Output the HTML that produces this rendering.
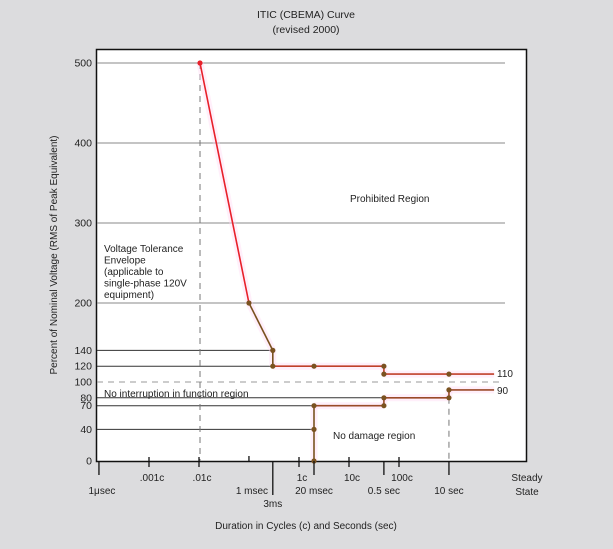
<!DOCTYPE html>
<html><head><meta charset="utf-8"><style>
html,body{margin:0;padding:0;background:#dcdcde;}
svg{display:block;font-family:"Liberation Sans",sans-serif;}
</style></head><body>
<svg width="613" height="549" viewBox="0 0 613 549">
<rect x="0" y="0" width="613" height="549" fill="#dcdcde"/>
<text x="306" y="18" font-size="10.5" text-anchor="middle" fill="#222">ITIC (CBEMA) Curve</text>
<text x="306" y="33" font-size="10.5" text-anchor="middle" fill="#222">(revised 2000)</text>
<rect x="96.5" y="49.5" width="430" height="412" fill="#fff" stroke="#111" stroke-width="1.5"/>
<g id="grid"></g>
<g id="glow"></g>
<g id="lines"></g>
<g id="pts"></g>
<g id="axes"></g>
<text x="57" y="255" font-size="10" text-anchor="middle" fill="#222" transform="rotate(-90 57 255)">Percent of Nominal Voltage (RMS of Peak Equivalent)</text>
<text x="306" y="529" font-size="10" text-anchor="middle" fill="#222">Duration in Cycles (c) and Seconds (sec)</text>
<text x="350" y="202" font-size="10" fill="#222">Prohibited Region</text>
<g font-size="10" fill="#222">
<text x="104" y="252">Voltage Tolerance</text>
<text x="104" y="263.5">Envelope</text>
<text x="104" y="275">(applicable to</text>
<text x="104" y="286.5">single-phase 120V</text>
<text x="104" y="298">equipment)</text>
</g>
<text x="104" y="397" font-size="10" fill="#222">No interruption in function region</text>
<text x="333" y="439" font-size="10" fill="#222">No damage region</text>
<text x="497" y="377" font-size="10" fill="#222">110</text>
<text x="497" y="394" font-size="10" fill="#222">90</text>
<text x="527" y="481" font-size="10" text-anchor="middle" fill="#222">Steady</text>
<text x="527" y="495" font-size="10" text-anchor="middle" fill="#222">State</text>
</svg>
<script>
const yTicks=[500,400,300,200,140,120,100,80,70,40,0];
const upperT=[0.000105,0.001,0.003,0.003,0.02,0.5,0.5,10,80];
const upperV=[500,200,140,120,120,120,110,110,110];
const lowerT=[0.02,0.02,0.02,0.5,0.5,10,10,80];
const lowerV=[0,40,70,70,80,80,90,90];
const cycleTicks=[0.001,0.01,1,10,100];
const cycleLabels=[".001c",".01c","1c","10c","100c"];
const timeTicks=[0.000001,0.001,0.003,0.02,0.5,10];
const timeLabels=["1μsec","1 msec","3ms","20 msec","0.5 sec","10 sec"];
const NS="http://www.w3.org/2000/svg";
function xt(t){return 314+50*Math.log10(t/0.02);}
function xc(c){return 299+50*Math.log10(c);}
function yv(v){return v>=200?303-(v-200)*0.8:461-v*0.79;}
function mk(tag,attrs,parent,txt){const e=document.createElementNS(NS,tag);for(const k in attrs)e.setAttribute(k,attrs[k]);if(txt!==undefined)e.textContent=txt;document.getElementById(parent).appendChild(e);return e;}
yTicks.forEach((v,i)=>{
  const y=yv(v);
  const lab=mk('text',{x:92,y:y+3.5,'font-size':10.5,'text-anchor':'end',fill:'#222'},'axes',String(v));
  
  
  if(v===0)return;
  let x2=505,dash=null,col='#888',w=1;
  if(v===100){dash='6,5';col='#999';x2=502;}
  else if(v<200){col='#333';
    if(v===140)x2=xt(0.003);else if(v===120)x2=xt(0.003);else if(v===80)x2=xt(10);else if(v===70||v===40)x2=xt(0.02);}
  const l=mk('line',{x1:97,y1:y,x2:x2,y2:y,stroke:col,'stroke-width':w},'grid');
  if(dash)l.setAttribute('stroke-dasharray',dash);
  
  
});
const d1=mk('line',{x1:xt(upperT[0]),y1:yv(500),x2:xt(upperT[0]),y2:461,stroke:'#777','stroke-dasharray':'6,5'},'grid');


const d2=mk('line',{x1:xt(10),y1:yv(80),x2:xt(10),y2:461,stroke:'#777','stroke-dasharray':'6,5'},'grid');


function drawCurve(T,V,name,colorFn){
  for(let i=0;i<T.length-1;i++){
    const x1=xt(T[i]),y1=yv(V[i]),x2=xt(T[i+1]),y2=yv(V[i+1]);
    const g=mk('line',{x1,y1,x2,y2,stroke:'#ffd6f2','stroke-width':7,'stroke-opacity':0.4},'glow');
    
    
    const l=mk('line',{x1,y1,x2,y2,stroke:colorFn(i),'stroke-width':1.6},'lines');
    
    
  }
  T.forEach((t,i)=>{
    if(i===T.length-1)return;
    const c=mk('circle',{cx:xt(t),cy:yv(V[i]),r:2.6,fill:(name==='upper-curve'&&i===0)?'#e8202a':'#7a5220'},'pts');
    
    
  });
}
drawCurve(upperT,upperV,'upper-curve',i=>i===0?'#e8202a':(i<3?'#7a5220':'#c0402a'));
drawCurve(lowerT,lowerV,'lower-curve',i=>i<2?'#7a5220':'#9a4a28');
cycleTicks.forEach((c,i)=>{
  const x=xc(c);
  const t=mk('line',{x1:x,y1:457,x2:x,y2:467,stroke:'#111','stroke-width':1.3},'axes');
  
  
  const lb=mk('text',{x:x+3,y:481,'font-size':10,'text-anchor':'middle',fill:'#222'},'axes',cycleLabels[i]);
  
  
});
timeTicks.forEach((s,i)=>{
  const x=xt(s);
  let y1=461,y2=475,ly=494,anchor='middle',lx=x;
  if(timeLabels[i]==='1 msec'){y1=456;y2=461;lx=x+3;}
  if(timeLabels[i]==='3ms'){y2=495;ly=507;}
  if(timeLabels[i]==='1μsec'){lx=x+3;}
  const t=mk('line',{x1:x,y1,x2:x,y2,stroke:'#111','stroke-width':1.3},'axes');
  
  
  const lb=mk('text',{x:lx,y:ly,'font-size':10,'text-anchor':anchor,fill:'#222'},'axes',timeLabels[i]);
  
  
});
</script>
</body></html>
